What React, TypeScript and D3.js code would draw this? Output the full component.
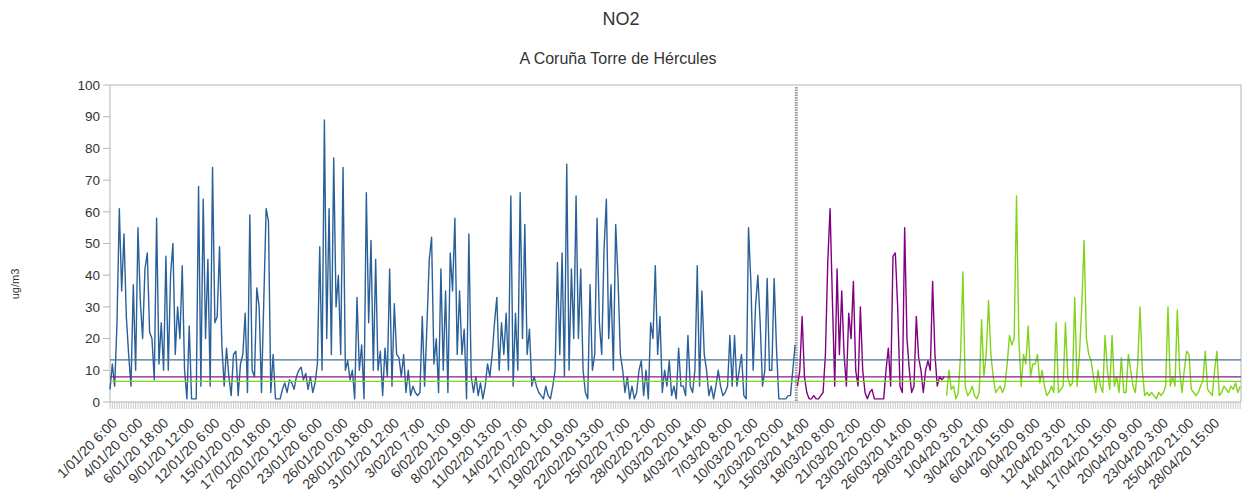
import React from "react";
import * as d3 from "d3";

const BLUE_VALUES = [
  4, 12, 5, 25, 61, 35, 53, 27, 15, 5,
  37, 10, 55, 32, 20, 42, 47, 22, 20, 7,
  58, 12, 25, 10, 46, 10, 40, 50, 15, 30,
  20, 43, 10, 1, 24, 1, 1, 1, 68, 5,
  64, 20, 45, 5, 74, 25, 27, 49, 18, 5,
  17, 8, 2, 15, 16, 2, 12, 15, 28, 3,
  59, 10, 8, 36, 30, 3, 32, 61, 57, 3,
  15, 1, 1, 1, 4, 6, 3, 7, 6, 4,
  8, 10, 11, 7, 9, 4, 8, 3, 6, 12,
  49, 10, 89, 20, 61, 15, 77, 30, 40, 15,
  74, 10, 13, 7, 10, 1, 33, 10, 18, 1,
  66, 25, 51, 10, 45, 10, 16, 2, 17, 8,
  42, 5, 31, 15, 14, 8, 15, 3, 10, 2,
  5, 3, 2,
  3, 27, 5, 24, 45, 52, 12, 20, 3, 42,
  10, 35, 3, 47, 35, 58, 15, 35, 15, 23,
  1, 53, 8, 3, 8, 2, 6, 1, 5, 12,
  8, 15, 25, 33, 10, 25, 15, 28, 10, 65,
  5, 28, 10, 66, 20, 56, 15, 23, 5, 8,
  5, 3, 2, 1, 5, 2, 1, 5, 10, 44,
  15, 47, 8, 75, 10, 42, 20, 65, 20, 42,
  10, 3, 1, 37, 10, 15, 58, 25, 15, 48,
  64, 20, 37, 10, 56, 39, 15, 10, 3, 8,
  1, 5, 1, 3, 10, 13, 2, 10, 1, 25,
  20, 43, 15, 27, 3, 10, 5, 13, 2, 5,
  1, 17, 5, 5, 2, 21, 5, 3, 10, 43,
  5, 35, 15, 10, 2, 5, 1, 5, 10, 5,
  2, 3, 5, 21, 5, 21, 5, 10, 15, 2,
  1, 55, 38, 10, 30, 40, 25, 5, 10, 39,
  10, 10, 39, 17, 1, 1, 1, 1, 2, 2,
  10, 18,
];
const PURPLE_VALUES = [
  5, 10, 27, 8, 3, 1, 1, 2, 1, 1,
  2, 3, 15, 44, 61, 32, 5, 42, 15, 35,
  15, 5, 28, 20, 38, 10, 5, 30, 10, 3,
  1, 3, 4, 1, 1, 1, 1, 1, 10, 17,
  5, 46, 47, 30, 5, 3, 55, 20, 10, 3,
  5, 27, 14, 10, 3, 10, 13, 10, 38, 15,
  5, 8, 7, 8,
];
const GREEN_VALUES = [
  2, 10, 4, 5, 1, 3, 15, 41, 5, 2,
  3, 5, 2, 1, 3, 26, 8, 15, 32, 15,
  8, 3, 4, 5, 3, 5, 12, 21, 18, 20,
  65, 20, 5, 15, 12, 24, 8, 12, 12, 15,
  6, 10, 5, 2, 3, 5, 3, 25, 3, 4,
  5, 25, 8, 5, 6, 33, 5, 15, 30, 51,
  20, 15, 13, 8, 3, 10, 5, 3, 21, 10,
  4, 21, 5, 8, 3, 14, 3, 3, 15, 10,
  5, 3, 12, 30, 10, 2, 3, 2, 3, 2,
  1, 3, 2, 3, 5, 30, 5, 8, 5, 29,
  10, 3, 10, 16, 15, 4, 3, 2, 3, 5,
  7, 16, 4, 3, 2, 10, 16, 2, 3, 5,
  4, 3, 5, 4, 6, 3, 5,
];
const SAMPLE_HOURS = 6;
const SERIES_START_HOURS = [0, 1770, 2154];
const SERIES_MEANS = [13.3, 7.9, 6.5];
const ALARM_HOUR = 1767;
const TOTAL_HOURS = 2912;

const X_LABELS = [
  "1/01/20 6:00", "4/01/20 0:00", "6/01/20 18:00", "9/01/20 12:00", "12/01/20 6:00",
  "15/01/20 0:00", "17/01/20 18:00", "20/01/20 12:00", "23/01/20 6:00", "26/01/20 0:00",
  "28/01/20 18:00", "31/01/20 12:00", "3/02/20 7:00", "6/02/20 1:00", "8/02/20 19:00",
  "11/02/20 13:00", "14/02/20 7:00", "17/02/20 1:00", "19/02/20 19:00", "22/02/20 13:00",
  "25/02/20 7:00", "28/02/20 2:00", "1/03/20 20:00", "4/03/20 14:00", "7/03/20 8:00",
  "10/03/20 2:00", "12/03/20 20:00", "15/03/20 14:00", "18/03/20 8:00", "21/03/20 2:00",
  "23/03/20 20:00", "26/03/20 14:00", "29/03/20 9:00", "1/04/20 3:00", "3/04/20 21:00",
  "6/04/20 15:00", "9/04/20 9:00", "12/04/20 3:00", "14/04/20 21:00", "17/04/20 15:00",
  "20/04/20 9:00", "23/04/20 3:00", "25/04/20 21:00", "28/04/20 15:00",
];
const LABEL_STEP_HOURS = 66;
const Y_TICKS = [0, 10, 20, 30, 40, 50, 60, 70, 80, 90, 100];

const SERIES_COLORS = ["#2a6099", "#800080", "#81d41a"];
const MEAN_COLORS = ["#4a7193", "#8b1a8b", "#81d41a"];

const W = 1243;
const H = 493;
const M = { left: 110, right: 1241, top: 85, bottom: 402 };
const FONT = "'Liberation Sans', Arial, sans-serif";

export default function App() {
  const x = d3.scaleLinear().domain([0, TOTAL_HOURS]).range([M.left, M.right]);
  const y = d3.scaleLinear().domain([0, 100]).range([M.bottom, M.top]);
  const series = [BLUE_VALUES, PURPLE_VALUES, GREEN_VALUES];
  const line = (start: number) =>
    d3
      .line<number>()
      .x((_, i) => x(start + i * SAMPLE_HOURS))
      .y((d) => y(d));

  const minorTicks = d3.range(0, TOTAL_HOURS + 1, 6);

  return (
    <svg
      width={W}
      height={H}
      style={{ position: "absolute", left: 0, top: 0, background: "#fff" }}
      fontFamily={FONT}
    >
      <text x={621} y={25} textAnchor="middle" fontSize={18} fill="#333">
        NO2
      </text>
      <text x={618} y={64} textAnchor="middle" fontSize={16} fill="#333">
        A Coruña Torre de Hércules
      </text>
      <text
        transform={`translate(19,${284}) rotate(-90)`}
        textAnchor="middle"
        fontSize={11}
        fill="#333"
      >
        ug/m3
      </text>

      {/* frame */}
      <line x1={M.left} x2={M.right} y1={M.top} y2={M.top} stroke="#b3b3b3" />
      <line x1={M.right} x2={M.right} y1={M.top} y2={M.bottom} stroke="#b3b3b3" />
      <line x1={M.left} x2={M.left} y1={M.top} y2={M.bottom} stroke="#b3b3b3" />

      {/* y axis */}
      {Y_TICKS.map((t) => (
        <g key={t}>
          <line x1={M.left - 7} x2={M.left} y1={y(t)} y2={y(t)} stroke="#b3b3b3" />
          <text
            x={M.left - 10}
            y={y(t)}
            dy="0.35em"
            textAnchor="end"
            fontSize={13.5}
            fill="#333"
          >
            {t}
          </text>
        </g>
      ))}

      {/* x axis */}
      {minorTicks.map((h) => (
        <line
          key={h}
          x1={x(h)}
          x2={x(h)}
          y1={M.bottom}
          y2={M.bottom + 7}
          stroke="#bdbdbd"
          strokeWidth={0.8}
        />
      ))}
      <line x1={M.left} x2={M.right} y1={M.bottom} y2={M.bottom} stroke="#b3b3b3" />
      {X_LABELS.map((lab, i) => {
        const px = x(i * LABEL_STEP_HOURS);
        return (
          <text
            key={lab}
            transform={`translate(${px + 8},${M.bottom + 22}) rotate(-45)`}
            textAnchor="end"
            fontSize={14}
            fill="#333"
          >
            {lab}
          </text>
        );
      })}

      {/* alarm marker */}
      <line
        x1={x(ALARM_HOUR)}
        x2={x(ALARM_HOUR)}
        y1={M.top + 2}
        y2={M.bottom}
        stroke="#9a9a9a"
        strokeWidth={3}
        strokeDasharray="1.5,1"
      />

      {/* series */}
      {series.map((vals, s) => (
        <path
          key={s}
          d={line(SERIES_START_HOURS[s])(vals) || ""}
          fill="none"
          stroke={SERIES_COLORS[s]}
          strokeWidth={1.4}
          strokeLinejoin="round"
        />
      ))}

      {/* means */}
      {SERIES_MEANS.map((m, s) => (
        <line
          key={s}
          x1={M.left}
          x2={M.right}
          y1={y(m)}
          y2={y(m)}
          stroke={MEAN_COLORS[s]}
          strokeWidth={1.3}
        />
      ))}
    </svg>
  );
}
